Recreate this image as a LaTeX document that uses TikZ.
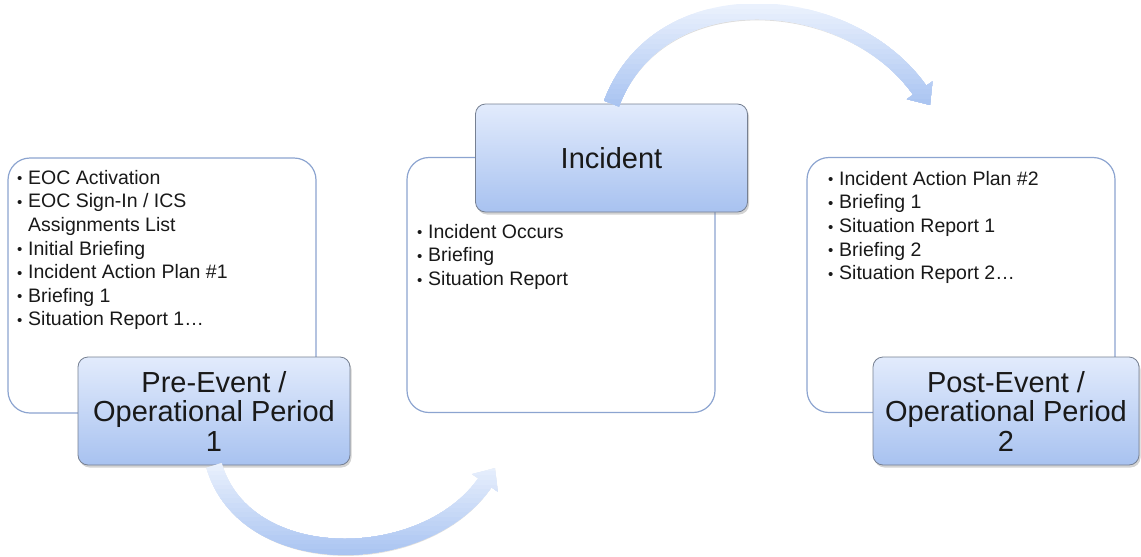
\documentclass[tikz,border=0pt]{standalone}
\usepackage{fontspec}
\setmainfont{Liberation Sans}
\usetikzlibrary{arrows.meta, shadows}

\definecolor{panelline}{RGB}{140,164,208}
\definecolor{titletop}{RGB}{226,235,252}
\definecolor{titlebot}{RGB}{168,194,240}
\definecolor{titleline}{RGB}{118,128,146}
\definecolor{arrowlight}{RGB}{234,241,253}
\definecolor{arrowdark}{RGB}{168,195,241}

\newcommand{\bul}{\makebox[11pt][l]{\raisebox{0.5pt}{\fontsize{15}{15}\selectfont\textbullet}}}
\newcommand{\ind}{\hspace*{11pt}}

\begin{document}
\begin{tikzpicture}[x=1pt, y=-1pt,
    panel/.style={draw=panelline, line width=1.2pt, fill=white, rounded corners=22pt,
      minimum width=308pt, minimum height=255pt, inner sep=0pt},
    titlebox/.style={draw=titleline, line width=0.8pt, rounded corners=10pt,
      top color=titletop, bottom color=titlebot, minimum width=272pt, minimum height=108pt,
      align=center, font=\fontsize{29}{29.5}\selectfont, text=black!90,
      drop shadow={opacity=0.35, shadow xshift=1.5pt, shadow yshift=-2.5pt}},
    itemlist/.style={anchor=north west, inner sep=0pt, align=left,
      font=\fontsize{19.5}{23.6}\selectfont, text=black!90},
    flow/.style={line width=16pt, -{Triangle[width=30pt, length=18pt]}},
    flowshadow/.style={flow, black!13, shift={(1,1.5)}}]
  \useasboundingbox (0,0) rectangle (1141,557);

  % white panels
  \node[panel] (prebox) at (162,285.5) {};
  \node[panel] (incbox) at (561,285) {};
  \node[panel] (postbox) at (961,285) {};

  % bullet lists
  \node[itemlist] (prelist) at (17,170) {\bul EOC Activation\\
    \bul EOC Sign-In / ICS\\
    \ind Assignments List\\
    \bul Initial Briefing\\
    \bul Incident Action Plan \#1\\
    \bul Briefing 1\\
    \bul Situation Report 1…};
  \node[itemlist] (inclist) at (417,224) {\bul Incident Occurs\\
    \bul Briefing\\
    \bul Situation Report};
  \node[itemlist] (postlist) at (828,171) {\bul Incident Action Plan \#2\\
    \bul Briefing 1\\
    \bul Situation Report 1\\
    \bul Briefing 2\\
    \bul Situation Report 2…};

  % title boxes
  \node[titlebox] (pretitle) at (214,411) {Pre-Event /\\Operational Period\\1};
  \node[titlebox] (inctitle) at (611.5,158) {Incident};
  \node[titlebox, minimum width=266pt] (posttitle) at (1006,411) {Post-Event /\\Operational Period\\2};

  % curved arrows, light at the top and darker below
  \coordinate (uptip) at (930,105);
  \coordinate (downtip) at (495,468);
  \draw[flowshadow] (inctitle.north) .. controls (660,-25) and (850,-10) .. (uptip);
  \draw[flowshadow] (pretitle.south) .. controls (245,572) and (425,570) .. (downtip);
  \foreach \i in {0,...,20} {
    \pgfmathsetmacro{\pct}{\i*5}
    \begin{scope}
      \clip (0,4+\i*5) rectangle (1141,125);
      \draw[flow, arrowdark!\pct!arrowlight] (inctitle.north) .. controls (660,-25) and (850,-10) .. (uptip);
    \end{scope}
    \begin{scope}
      \clip (0,462+\i*4.6) rectangle (1141,557);
      \draw[flow, arrowdark!\pct!arrowlight] (pretitle.south) .. controls (245,572) and (425,570) .. (downtip);
    \end{scope}
  }
\end{tikzpicture}
\end{document}
